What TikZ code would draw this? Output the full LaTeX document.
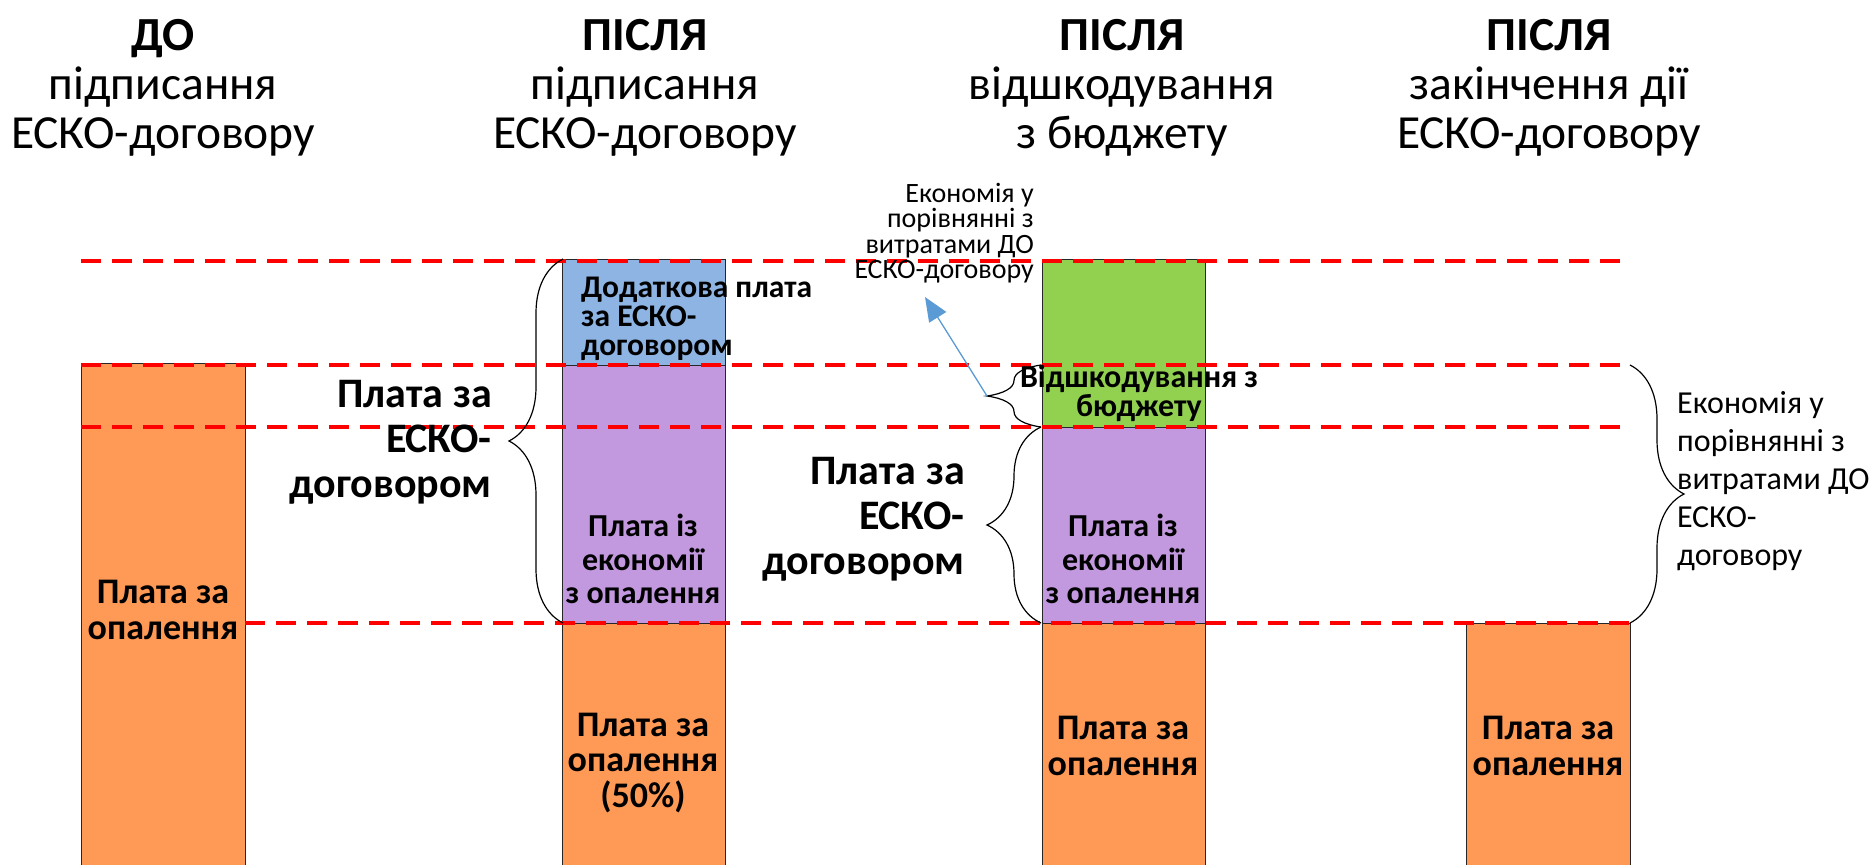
\documentclass[tikz,border=0pt]{standalone}
\usepackage{fontspec}
\setmainfont{Carlito}
\usetikzlibrary{positioning,decorations.pathreplacing,arrows.meta}
\definecolor{heatorange}{HTML}{FF9A56}
\definecolor{escoblue}{HTML}{8DB4E2}
\definecolor{escopurple}{HTML}{C298DE}
\definecolor{budgetgreen}{HTML}{92D050}
\definecolor{arrowblue}{HTML}{5B9BD5}
\tikzset{
  barbox/.style={draw=black!85, line width=1pt},
  dashlevel/.style={draw=red, line width=3.5pt, dash pattern=on 20pt off 11pt},
  curly/.style={draw, line width=1.2pt, decorate, decoration={brace, amplitude=#1}},
  pointer/.style={draw=arrowblue, line width=1.3pt, -{Triangle[length=24pt,width=20pt]}},
  headtext/.style={align=center, inner sep=0pt, font=\fontsize{47.5}{49}\selectfont},
  bigbartext/.style={align=center, inner sep=0pt, font=\bfseries\fontsize{36}{35.5}\selectfont},
  smallbartext/.style={align=center, inner sep=0pt, font=\bfseries\fontsize{32}{33.5}\selectfont},
  sidetext/.style={align=right, anchor=east, inner sep=0pt, font=\bfseries\fontsize{42}{45}\selectfont},
  notetext/.style={inner sep=0pt, font=\fontsize{32}{38}\selectfont}
}

\begin{document}
\begin{tikzpicture}[x=1pt,y=-1pt]
  \useasboundingbox (0,0) rectangle (1872,865);
  % headings
  \node[headtext] (before) at (163,88) {\textbf{ДО}\\підписання\\ЕСКО-договору};
  \node[headtext] (signed) at (645,88) {\textbf{ПІСЛЯ}\\підписання\\ЕСКО-договору};
  \node[headtext] (repaid) at (1122,88) {\textbf{ПІСЛЯ}\\відшкодування\\з бюджету};
  \node[headtext] (ended) at (1549,88) {\textbf{ПІСЛЯ}\\закінчення дії\\ЕСКО-договору};

  % bars
  \draw[barbox, fill=heatorange] (81,363) rectangle (245,870);
  \draw[barbox, fill=escoblue] (562,259) rectangle (725,365);
  \draw[barbox, fill=escopurple] (562,365) rectangle (725,623);
  \draw[barbox, fill=heatorange] (562,623) rectangle (725,870);
  \draw[barbox, fill=budgetgreen] (1042,259) rectangle (1205,427);
  \draw[barbox, fill=escopurple] (1042,427) rectangle (1205,623);
  \draw[barbox, fill=heatorange] (1042,623) rectangle (1205,870);
  \draw[barbox, fill=heatorange] (1466,623) rectangle (1630,870);

  % levels
  \foreach \y/\x in {261/81,365/81,427/81,623/245}
    \draw[dashlevel] (\x,\y) -- (1630,\y);

  % braces
  \draw[curly=54pt] (563,623) -- (563,259);
  \draw[curly=54pt] (1041,427) -- (1041,365);
  \draw[curly=54pt] (1041,623) -- (1041,427);
  \draw[curly=54pt] (1630,365) -- (1630,623);

  \node[bigbartext] (heat0) at (163,610) {Плата за\\опалення};
  \node[bigbartext] (heat1) at (643,763) {Плата за\\опалення\\(50\%)};
  \node[bigbartext] (heat2) at (1123,746) {Плата за\\опалення};
  \node[bigbartext] (heat3) at (1548,746) {Плата за\\опалення};
  \node[smallbartext] (pay1) at (643,559) {Плата із\\економії\\з опалення};
  \node[smallbartext] (pay2) at (1123,559) {Плата із\\економії\\з опалення};
  \node[smallbartext, anchor=west, align=left, font=\bfseries\fontsize{31.5}{29}\selectfont]
    (extra) at (581,319) {Додаткова плата\\за ЕСКО-\\договором};
  \node[smallbartext, font=\bfseries\fontsize{32}{29}\selectfont]
    (budget) at (1139,393) {Відшкодування з\\бюджету};

  \node[sidetext] (contract1) at (492,442) {Плата за\\ЕСКО-\\договором};
  \node[sidetext] (contract2) at (965,519) {Плата за\\ЕСКО-\\договором};

  \node[notetext, anchor=west, align=left] (saving) at (1677,481)
    {Економія у\\порівнянні з\\витратами ДО\\ЕСКО-\\договору};
  \node[notetext, anchor=east, align=right, font=\fontsize{28}{25.5}\selectfont]
    (savingtop) at (1034,233) {Економія у\\порівнянні з\\витратами ДО\\ЕСКО-договору};

  \coordinate (greentip) at (987,396);
  \coordinate (savingend) at (925,297);
  \draw[pointer] (greentip) -- (savingend);
\end{tikzpicture}
\end{document}
